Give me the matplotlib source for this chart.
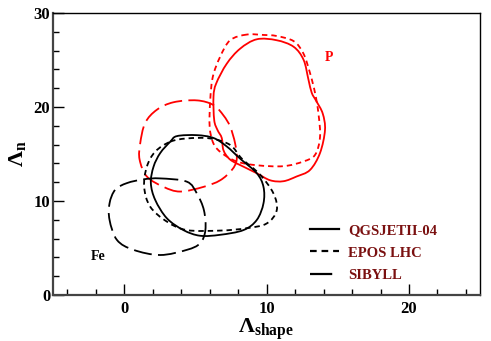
import numpy as np
import matplotlib
matplotlib.use("Agg")
import matplotlib.pyplot as plt
from matplotlib.path import Path
from matplotlib.patches import PathPatch
from matplotlib.lines import Line2D

plt.rcParams["font.family"] = ["Liberation Serif", "DejaVu Serif"]
plt.rcParams["font.weight"] = "bold"
plt.rcParams["mathtext.fontset"] = "custom"
plt.rcParams["mathtext.rm"] = "Liberation Serif"
plt.rcParams["mathtext.bf"] = "Liberation Serif:bold"
plt.rcParams["mathtext.it"] = "Liberation Serif:italic"

# contour loops: (Lambda_shape, Lambda_n)
p_qgsjet_x = [9.31, 8.14, 7.2, 6.46, 6.27, 6.32, 6.55, 6.85, 6.97, 7.44, 8.37, 9.31,
              10.25, 11.18, 12.1, 13.05, 13.75, 14.1, 13.94, 13.5, 13.17, 12.94, 12.6,
              11.9, 10.7]
p_qgsjet_y = [27.2, 26.2, 24.6, 22.5, 21.1, 18.6, 17.55, 16.7, 15.4, 14.4, 13.65, 12.95,
              12.2, 12.1, 12.6, 13.3, 15.1, 17.55, 19.3, 20.6, 21.5, 22.9, 25.0,
              26.4, 27.1]

p_epos_x = [8.6, 7.44, 6.74, 6.22, 6.04, 6.0, 6.27, 6.85, 7.9, 9.31, 11.18, 12.58,
            13.4, 13.75, 13.64, 13.4, 13.05, 12.58, 11.9, 10.7, 9.78]
p_epos_y = [27.7, 27.1, 25.35, 23.2, 20.7, 17.9, 16.1, 15.1, 14.2, 13.8, 13.7, 14.2,
            14.9, 16.8, 19.3, 21.5, 23.6, 25.7, 27.0, 27.55, 27.66]

p_sibyll_x = [5.1, 6.27, 6.97, 7.44, 7.79, 7.9, 7.56, 6.74, 5.57, 3.93, 2.76, 1.59,
              1.08, 1.12, 1.47, 2.29, 3.46]
p_sibyll_y = [20.7, 20.2, 19.1, 17.9, 16.1, 14.4, 13.3, 12.2, 11.5, 11.0, 11.5, 12.6,
              14.4, 16.1, 18.3, 19.7, 20.5]

fe_qgsjet_x = [3.7, 5.1, 6.27, 7.2, 8.14, 9.31, 9.78, 9.78, 9.31, 8.37, 6.74, 5.33,
               4.16, 3.0, 2.18, 1.87, 2.06, 2.53, 3.23]
fe_qgsjet_y = [16.9, 17.0, 16.7, 15.8, 14.5, 12.95, 11.5, 9.75, 7.98, 6.9, 6.4, 6.3,
               6.9, 8.15, 10.1, 11.9, 13.65, 15.1, 16.3]

fe_epos_x = [3.23, 4.4, 6.04, 7.44, 8.26, 9.54, 10.48, 10.71, 10.0, 8.6, 6.74, 4.4,
             3.0, 1.82, 1.4, 1.59, 2.18]
fe_epos_y = [16.3, 16.65, 16.65, 15.96, 14.5, 12.8, 10.8, 9.0, 7.6, 7.1, 6.85, 6.9,
             7.8, 9.4, 11.5, 13.65, 15.25]

fe_sibyll_x = [2.53, 4.4, 5.1, 5.6, 5.7, 5.33, 4.4, 2.53, 0.65, -0.51, -1.03, -1.03,
               -0.63, 0.19, 1.35]
fe_sibyll_y = [12.4, 12.05, 10.8, 9.0, 6.9, 5.5, 4.8, 4.25, 4.8, 5.85, 7.98, 9.75,
               11.2, 11.9, 12.3]

models = ["QGSJETII-04", "EPOS LHC", "SIBYLL"]


def closed_path(xs, ys):
    # smooth closed curve through the points (Catmull-Rom as cubic beziers)
    pts = np.column_stack([xs, ys])
    n = len(pts)
    verts = [pts[0]]
    codes = [Path.MOVETO]
    for i in range(n):
        p0, p1, p2, p3 = pts[i - 1], pts[i], pts[(i + 1) % n], pts[(i + 2) % n]
        c1 = p1 + (p2 - p0) / 6.0
        c2 = p2 - (p3 - p1) / 6.0
        verts += [c1, c2, p2]
        codes += [Path.CURVE4] * 3
    return Path(verts, codes)


styles = {
    "solid": dict(linestyle="-"),
    "dot": dict(linestyle=(0, (3, 2.2))),
    "dash": dict(linestyle=(0, (10, 3.5))),
}

fig = plt.figure(figsize=(4.91, 3.41), dpi=100)
ax = fig.add_axes([0.108, 0.135, 0.870, 0.827])

loops = [
    (p_qgsjet_x, p_qgsjet_y, "red", "solid"),
    (p_epos_x, p_epos_y, "red", "dot"),
    (p_sibyll_x, p_sibyll_y, "red", "dash"),
    (fe_qgsjet_x, fe_qgsjet_y, "black", "solid"),
    (fe_epos_x, fe_epos_y, "black", "dot"),
    (fe_sibyll_x, fe_sibyll_y, "black", "dash"),
]
for xs, ys, col, st in loops:
    patch = PathPatch(closed_path(xs, ys), fill=False, edgecolor=col, linewidth=1.3,
                      **styles[st])
    ax.add_patch(patch)

ax.text(14.4, 25.3, "P", color="red", fontsize=10, fontweight="bold",
        ha="center", va="center")
ax.text(-1.8, 4.1, "Fe", color="black", fontsize=10, fontweight="bold",
        ha="center", va="center")

handles = [Line2D([], [], color="black", linewidth=1.6, **styles[s])
           for s in ["solid", "dot", "dash"]]
leg = ax.legend(handles, models, loc="lower right", bbox_to_anchor=(0.93, 0.0),
                frameon=False, handlelength=2.0, handletextpad=0.6, labelspacing=0.62,
                prop=dict(family="Liberation Serif", weight="bold", size=10.5))
for t in leg.get_texts():
    t.set_color("#7a1010")

ax.set_xlim(-5, 25)
ax.set_ylim(0, 30)
ax.set_xticks([0, 10, 20])
ax.set_yticks([0, 10, 20, 30])
ax.set_xticks(np.arange(-4, 25, 2), minor=True)
ax.set_yticks(np.arange(0, 31, 2), minor=True)
ax.tick_params(which="major", direction="in", length=8, width=1, labelsize=12, pad=4)
ax.tick_params(which="minor", direction="in", length=4, width=1)
ax.tick_params(axis="y", pad=2)
for lab in ax.get_xticklabels() + ax.get_yticklabels():
    lab.set_fontweight("bold")

for side in ["left", "bottom"]:
    ax.spines[side].set_linewidth(1.6)
    ax.spines[side].set_color("#444444")
for side in ["top", "right"]:
    ax.spines[side].set_linewidth(1.0)

ax.set_xlabel(r"$\mathbf{\Lambda_{shape}}$", fontsize=16)
ax.xaxis.set_label_coords(0.498, -0.075)
ax.set_ylabel(r"$\mathbf{\Lambda_{n}}$", fontsize=16, labelpad=4)

fig.savefig("out.png", dpi=100)
